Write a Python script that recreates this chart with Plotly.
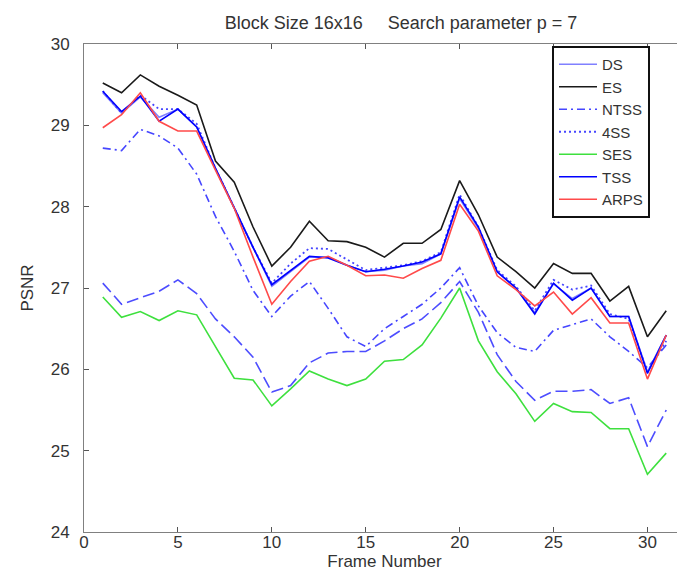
import plotly.graph_objects as go

frames = list(range(1, 32))

es = [29.52, 29.40, 29.62, 29.48, 29.37, 29.25, 28.56, 28.30, 27.75, 27.27, 27.50, 27.82, 27.58, 27.57, 27.50, 27.38,
      27.55, 27.55, 27.72, 28.32, 27.90, 27.38, 27.20, 27.00, 27.30, 27.18, 27.18, 26.84, 27.02, 26.40, 26.72]
ds = [29.40, 29.15, 29.35, 29.10, 29.20, 28.98, 28.47, 27.98, 27.50, 27.02, 27.20, 27.38, 27.38, 27.28, 27.20, 27.22,
      27.27, 27.30, 27.42, 28.10, 27.73, 27.20, 27.00, 26.70, 27.05, 26.87, 27.00, 26.65, 26.65, 25.97, 26.42]
ntss = [28.72, 28.69, 28.95, 28.87, 28.72, 28.40, 27.88, 27.45, 26.97, 26.65, 26.90, 27.08, 26.75, 26.40, 26.28, 26.50,
        26.65, 26.80, 27.00, 27.25, 26.78, 26.45, 26.27, 26.22, 26.48, 26.55, 26.62, 26.40, 26.22, 26.02, 26.30]
fss = [29.42, 29.15, 29.37, 29.20, 29.20, 29.02, 28.47, 27.98, 27.50, 27.06, 27.30, 27.49, 27.48, 27.35, 27.22, 27.25,
       27.28, 27.33, 27.44, 28.15, 27.75, 27.22, 27.02, 26.72, 27.10, 26.98, 27.03, 26.68, 26.62, 25.97, 26.35]
ses = [26.89, 26.64, 26.71, 26.60, 26.72, 26.67, 26.28, 25.89, 25.87, 25.55, 25.76, 25.98, 25.88, 25.80, 25.88, 26.10,
       26.12, 26.30, 26.63, 27.00, 26.35, 25.97, 25.70, 25.36, 25.58, 25.48, 25.47, 25.27, 25.27, 24.71, 24.97]
tss = [29.42, 29.17, 29.36, 29.05, 29.20, 28.98, 28.47, 27.98, 27.50, 27.04, 27.22, 27.39, 27.37, 27.28, 27.20, 27.23,
       27.27, 27.32, 27.42, 28.12, 27.75, 27.20, 27.00, 26.68, 27.06, 26.85, 27.00, 26.65, 26.65, 25.95, 26.42]
arps = [28.97, 29.13, 29.40, 29.05, 28.93, 28.93, 28.45, 27.98, 27.38, 26.80, 27.08, 27.33, 27.39, 27.28, 27.15, 27.16,
        27.12, 27.24, 27.34, 28.03, 27.70, 27.15, 26.98, 26.78, 26.95, 26.68, 26.88, 26.57, 26.57, 25.88, 26.42]
unlabeled_dashed = [27.06, 26.80, 26.88, 26.96, 27.10, 26.93, 26.62, 26.40, 26.15, 25.72, 25.80, 26.08, 26.20, 26.22,
                    26.22, 26.35, 26.50, 26.62, 26.82, 27.08, 26.70, 26.18, 25.85, 25.62, 25.73, 25.73, 25.75, 25.58,
                    25.65, 25.05, 25.50]

x_ticks = [0, 5, 10, 15, 20, 25, 30]
y_ticks = [24, 25, 26, 27, 28, 29, 30]

FONT = "Liberation Sans, Arial, Helvetica, sans-serif"

series = [
    ("DS", ds, "#8080ff", "solid", 1.6),
    ("ES", es, "#1a1a1a", "solid", 1.6),
    ("NTSS", ntss, "#4646ff", "8px,4px,2px,4px", 1.6),
    ("4SS", fss, "#4646ff", "2px,3px", 1.8),
    ("SES", ses, "#3ee03e", "solid", 1.6),
    ("TSS", tss, "#0000ff", "solid", 1.6),
    ("ARPS", arps, "#ff4a4a", "solid", 1.6),
]

fig = go.Figure()
fig.add_trace(go.Scatter(x=frames, y=unlabeled_dashed, mode="lines", showlegend=False,
                         line=dict(color="#4d4dff", width=1.6, dash="12px,5px")))
for name, vals, color, dash, w in series:
    fig.add_trace(go.Scatter(x=frames, y=vals, mode="lines", name=name,
                             line=dict(color=color, width=w, dash=dash)))

axis_common = dict(showline=True, linecolor="#808080", linewidth=1, mirror="allticks",
                   ticks="inside", ticklen=5, tickcolor="#555555", showgrid=False, zeroline=False,
                   tickfont=dict(family=FONT, size=17, color="#333333"))

fig.update_layout(
    width=685, height=573,
    margin=dict(l=76, r=8, t=36, b=49),
    plot_bgcolor="white", paper_bgcolor="white",
    title=dict(text="Block Size 16x16&nbsp;&nbsp;&nbsp;&nbsp;&nbsp;Search parameter p = 7",
               x=393 / 685, xanchor="center", xref="container",
               y=1 - 15 / 573, yanchor="middle", yref="container",
               font=dict(family=FONT, size=18, color="#333333")),
    xaxis=dict(range=[0, 32], tickvals=x_ticks, ticktext=[str(v) for v in x_ticks],
               ticklabelstandoff=-5,
               title=dict(text="Frame Number", font=dict(family=FONT, size=17, color="#333333"), standoff=0),
               **axis_common),
    yaxis=dict(range=[24, 30], tickvals=y_ticks, ticktext=[str(v) for v in y_ticks],
               ticklabelstandoff=10,
               title=dict(text="PSNR", font=dict(family=FONT, size=17, color="#333333"), standoff=12),
               **axis_common),
    legend=dict(x=(544 - 76) / 601, y=(524 - 38) / 488, xanchor="left", yanchor="top",
                bgcolor="white", bordercolor="#111111", borderwidth=2,
                font=dict(family=FONT, size=15, color="#333333"),
                tracegroupgap=0, itemwidth=38),
)

fig.write_html("out.html")
